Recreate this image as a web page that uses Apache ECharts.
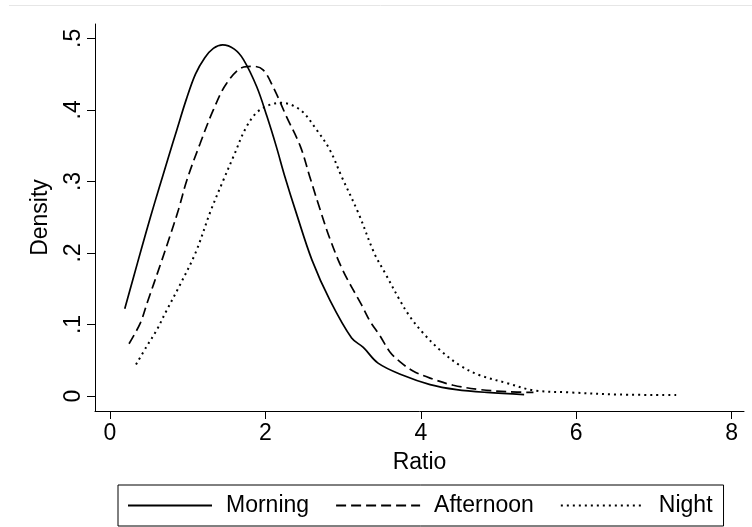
<!DOCTYPE html>
<html>
<head>
<meta charset="utf-8">
<script src="https://cdn.jsdelivr.net/npm/echarts@6/dist/echarts.min.js"></script>
<style>
html,body{margin:0;padding:0;background:#fff;}
#chart{width:752px;height:527px;}
</style>
</head>
<body>
<div id="chart"></div>
<script>
var seriesNames = ['Morning', 'Afternoon', 'Night'];

var morningX = [0.19, 0.3, 0.41, 0.52, 0.63, 0.75, 0.86, 0.98, 1.1, 1.22, 1.33, 1.45, 1.6, 1.72, 1.89, 2.02, 2.14, 2.25, 2.4, 2.6, 2.83, 3.11, 3.26, 3.45, 3.77, 4.12, 4.46, 4.85, 5.33];
var morningY = [0.122, 0.165, 0.208, 0.25, 0.29, 0.333, 0.372, 0.414, 0.45, 0.473, 0.486, 0.491, 0.485, 0.470, 0.432, 0.391, 0.349, 0.307, 0.255, 0.19, 0.134, 0.081, 0.068, 0.046, 0.029, 0.016, 0.009, 0.005, 0.002];

var afternoonX = [0.245, 0.39, 0.49, 0.64, 0.77, 0.88, 0.99, 1.16, 1.33, 1.50, 1.72, 1.84, 1.97, 2.10, 2.27, 2.45, 2.57, 2.7, 2.83, 3.0, 3.24, 3.35, 3.47, 3.60, 3.73, 3.90, 4.12, 4.42, 4.76, 5.11, 5.45];
var afternoonY = [0.073, 0.102, 0.134, 0.181, 0.223, 0.26, 0.302, 0.353, 0.40, 0.437, 0.46, 0.461, 0.456, 0.432, 0.391, 0.349, 0.307, 0.262, 0.22, 0.175, 0.127, 0.104, 0.085, 0.062, 0.048, 0.035, 0.025, 0.015, 0.009, 0.006, 0.005];

var nightX = [0.335, 0.47, 0.60, 0.73, 0.88, 1.1, 1.3, 1.46, 1.59, 1.76, 1.93, 2.2, 2.45, 2.66, 2.83, 2.98, 3.2, 3.4, 3.55, 3.73, 3.86, 4.03, 4.25, 4.50, 4.76, 5.11, 5.45, 5.92, 6.56, 7.31];
var nightY = [0.044, 0.069, 0.092, 0.12, 0.151, 0.2, 0.26, 0.302, 0.335, 0.377, 0.40, 0.41, 0.40, 0.372, 0.344, 0.307, 0.255, 0.2, 0.17, 0.134, 0.111, 0.088, 0.064, 0.043, 0.029, 0.018, 0.008, 0.005, 0.002, 0.0014];

var xTickValues = [0, 2, 4, 6, 8];
var xTickLabels = ['0', '2', '4', '6', '8'];
var yTickValues = [0, 0.1, 0.2, 0.3, 0.4, 0.5];
var yTickLabels = ['0', '.1', '.2', '.3', '.4', '.5'];

function zip(xs, ys) {
  return xs.map(function (x, i) { return [x, ys[i]]; });
}
function labelFor(values, labels) {
  return function (v) {
    for (var i = 0; i < values.length; i++) {
      if (Math.abs(values[i] - v) < 1e-9) return labels[i];
    }
    return '';
  };
}

var FONT = 'Liberation Sans, Arial, Helvetica, sans-serif';
var FS = 23;
var chart = echarts.init(document.getElementById('chart'), null, {renderer: 'canvas'});

var option = {
  backgroundColor: '#fff',
  animation: false,
  textStyle: {fontFamily: FONT, color: '#000'},
  graphic: [{
    type: 'line',
    shape: {x1: 9, y1: 5.5, x2: 752, y2: 5.5},
    style: {stroke: '#e6e6e6', lineWidth: 1}
  }],
  grid: {left: 95, top: 24, width: 649, height: 387, containLabel: false},
  xAxis: {
    type: 'value',
    min: -0.193,
    max: 8.16,
    name: 'Ratio',
    nameLocation: 'middle',
    nameGap: 40,
    nameTextStyle: {fontSize: FS, color: '#000', fontFamily: FONT},
    axisLine: {show: true, onZero: false, lineStyle: {color: '#000', width: 1}},
    axisTick: {show: true, length: 8, lineStyle: {color: '#000'}, customValues: xTickValues},
    axisLabel: {show: true, fontSize: FS, color: '#000', margin: 11, fontFamily: FONT,
      customValues: xTickValues, formatter: labelFor(xTickValues, xTickLabels)},
    splitLine: {show: false}
  },
  yAxis: {
    type: 'value',
    min: -0.02097,
    max: 0.5201,
    name: 'Density',
    nameLocation: 'middle',
    nameGap: 43,
    nameRotate: 90,
    nameTextStyle: {fontSize: FS, color: '#000', fontFamily: FONT},
    axisLine: {show: true, onZero: false, lineStyle: {color: '#000', width: 1}},
    axisTick: {show: true, length: 8, lineStyle: {color: '#000'}, customValues: yTickValues},
    axisLabel: {show: true, fontSize: FS, color: '#000', margin: 10, rotate: 90, fontFamily: FONT,
      customValues: yTickValues, formatter: labelFor(yTickValues, yTickLabels)},
    splitLine: {show: false}
  },
  legend: {
    data: seriesNames,
    left: 118,
    top: 485,
    orient: 'horizontal',
    padding: [9, 11, 9, 9],
    itemGap: 26,
    itemWidth: 84,
    itemHeight: 14,
    borderColor: '#000',
    borderWidth: 1,
    itemStyle: {opacity: 0},
    textStyle: {fontSize: FS, color: '#000', fontFamily: FONT, padding: [0, 0, 0, 9]},
    selectedMode: false
  },
  series: [
    {
      name: seriesNames[0], type: 'line', data: zip(morningX, morningY),
      smooth: 0.35, symbol: 'none', showSymbol: false,
      lineStyle: {color: '#000', width: 1.7, type: 'solid'},
      itemStyle: {color: '#000'}
    },
    {
      name: seriesNames[1], type: 'line', data: zip(afternoonX, afternoonY),
      smooth: 0.35, symbol: 'none', showSymbol: false,
      lineStyle: {color: '#000', width: 1.7, type: [10, 5]},
      itemStyle: {color: '#000'}
    },
    {
      name: seriesNames[2], type: 'line', data: zip(nightX, nightY),
      smooth: 0.35, symbol: 'none', showSymbol: false,
      lineStyle: {color: '#000', width: 2, type: [2, 4]},
      itemStyle: {color: '#000'}
    }
  ]
};
chart.setOption(option);
</script>
</body>
</html>
